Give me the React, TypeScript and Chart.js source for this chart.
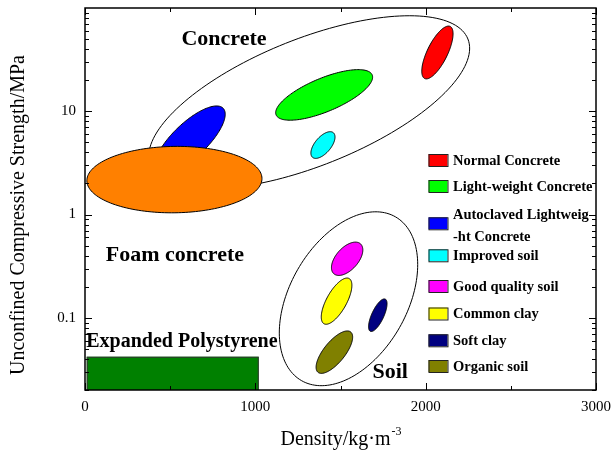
import React, { useEffect, useRef } from "react";
import { Chart, registerables } from "chart.js";
Chart.register(...registerables);

const FONT = "'Liberation Serif', 'Times New Roman', serif";

// ---------- data ----------
const xTickValues = [0, 1000, 2000, 3000];
const xMinorValues = [500, 1500, 2500];
const yTickValues = [0.1, 1, 10];
const yMinorValues = [
  0.02, 0.03, 0.04, 0.05, 0.06, 0.07, 0.08, 0.09,
  0.2, 0.3, 0.4, 0.5, 0.6, 0.7, 0.8, 0.9,
  2, 3, 4, 5, 6, 7, 8, 9,
  20, 30, 40, 50, 60, 70, 80, 90,
];

// regions (ellipses) in draw order: centre and two conjugate semi-axis end points, in data units
const regionNames = [
  "Concrete", "Soil", "Autoclaved Lightweight Concrete", "Light-weight Concrete",
  "Normal Concrete", "Improved soil", "Foam concrete", "Good quality soil",
  "Common clay", "Soft clay", "Organic soil",
];
const centerDensity = [1316, 1547, 616, 1404, 2069, 1397, 525, 1539, 1477, 1719, 1464];
const centerStrength = [12.2, 0.153, 5.27, 14.4, 37.1, 4.71, 2.18, 0.373, 0.145, 0.106, 0.0465];
const axisADensity = [384, 1272, 811, 1686, 2144, 1458, 1039, 1617, 1551, 1762, 1560];
const axisAStrength = [2.97, 0.0246, 10.7, 22.5, 66.3, 6.2, 2.24, 0.521, 0.24, 0.152, 0.0729];
const axisBDensity = [1178, 1248, 686, 1442, 2122, 1433, 528, 1588, 1528, 1752, 1512];
const axisBStrength = [45.5, 0.292, 4.01, 10.2, 33.6, 4.2, 1.04, 0.317, 0.13, 0.101, 0.0401];
const regionColors = [
  null, null, "#0000FF", "#00FF00", "#FF0000", "#00FFFF", "#FF8000",
  "#FF00FF", "#FFFF00", "#000080", "#808000",
];

// Expanded Polystyrene block
const epsDensity = [10, 1020];
const epsStrength = [0.02, 0.042];
const epsColor = "#008000";

// legend
const legendLabels = [
  ["Normal Concrete"], ["Light-weight Concrete"], ["Autoclaved Lightweig", "-ht Concrete"],
  ["Improved soil"], ["Good quality soil"], ["Common clay"], ["Soft clay"], ["Organic soil"],
];
const legendColors = ["#FF0000", "#00FF00", "#0000FF", "#00FFFF", "#FF00FF", "#FFFF00", "#000080", "#808000"];

// annotations
const noteTexts = ["Concrete", "Foam concrete", "Expanded Polystyrene", "Soil"];
const noteDensity = [816, 528, 569, 1792];
const noteStrength = [49.8, 0.405, 0.0588, 0.0294];
const noteSizes = [22, 22, 20, 22];

// ---------- layout ----------
const LEGEND_ROW_Y = [160, 186, 223.3, 255.3, 286, 313.5, 340.3, 366];
const LEGEND_BOX_X = 428.5;
const LEGEND_TEXT_X = 453;

const drawPlugin = {
  id: "drawRegions",
  afterDatasetsDraw(chart: any) {
    const ctx: CanvasRenderingContext2D = chart.ctx;
    const xs = chart.scales.x, ys = chart.scales.y;
    const ca = chart.chartArea;
    ctx.save();
    ctx.beginPath();
    ctx.rect(ca.left, ca.top, ca.right - ca.left, ca.bottom - ca.top);
    ctx.clip();

    for (let i = 0; i < regionNames.length; i++) {
      const cx = xs.getPixelForValue(centerDensity[i]);
      const cy = ys.getPixelForValue(centerStrength[i]);
      const ax = xs.getPixelForValue(axisADensity[i]) - cx;
      const ay = ys.getPixelForValue(axisAStrength[i]) - cy;
      const bx = xs.getPixelForValue(axisBDensity[i]) - cx;
      const by = ys.getPixelForValue(axisBStrength[i]) - cy;
      ctx.beginPath();
      const n = 160;
      for (let k = 0; k <= n; k++) {
        const t = (k / n) * Math.PI * 2;
        const X = cx + Math.cos(t) * ax + Math.sin(t) * bx;
        const Y = cy + Math.cos(t) * ay + Math.sin(t) * by;
        if (k === 0) ctx.moveTo(X, Y); else ctx.lineTo(X, Y);
      }
      ctx.closePath();
      const fill = regionColors[i];
      if (fill) { ctx.fillStyle = fill; ctx.fill(); }
      ctx.strokeStyle = "#000";
      ctx.lineWidth = 1;
      ctx.stroke();
    }

    // EPS block
    const x0 = xs.getPixelForValue(epsDensity[0]);
    const x1 = xs.getPixelForValue(epsDensity[1]);
    const y0 = ys.getPixelForValue(epsStrength[0]);
    const y1 = ys.getPixelForValue(epsStrength[1]);
    ctx.fillStyle = epsColor;
    ctx.fillRect(x0, y1, x1 - x0, y0 - y1);
    ctx.strokeStyle = "#333";
    ctx.lineWidth = 1;
    ctx.strokeRect(x0 + 0.5, y1 + 0.5, x1 - x0 - 1, y0 - y1);
    ctx.restore();

    // annotations
    ctx.save();
    ctx.fillStyle = "#000";
    ctx.textAlign = "center";
    ctx.textBaseline = "middle";
    for (let i = 0; i < noteTexts.length; i++) {
      ctx.font = `bold ${noteSizes[i]}px ${FONT}`;
      ctx.fillText(noteTexts[i], xs.getPixelForValue(noteDensity[i]), ys.getPixelForValue(noteStrength[i]));
    }
    ctx.restore();

    // frame + ticks (inward)
    ctx.save();
    ctx.strokeStyle = "#000";
    ctx.lineWidth = 1.5;
    ctx.strokeRect(ca.left, ca.top, ca.right - ca.left, ca.bottom - ca.top);
    ctx.lineWidth = 1;
    ctx.beginPath();
    const vt = (v: number, len: number) => {
      const x = Math.round(xs.getPixelForValue(v)) + 0.5;
      ctx.moveTo(x, ca.bottom); ctx.lineTo(x, ca.bottom - len);
      ctx.moveTo(x, ca.top); ctx.lineTo(x, ca.top + len);
    };
    const ht = (v: number, len: number) => {
      const y = Math.round(ys.getPixelForValue(v)) + 0.5;
      ctx.moveTo(ca.left, y); ctx.lineTo(ca.left + len, y);
      ctx.moveTo(ca.right, y); ctx.lineTo(ca.right - len, y);
    };
    xTickValues.forEach(v => vt(v, 7));
    xMinorValues.forEach(v => vt(v, 4));
    yTickValues.forEach(v => ht(v, 7));
    yMinorValues.forEach(v => ht(v, 4));
    ctx.stroke();
    ctx.restore();

    // legend
    ctx.save();
    ctx.font = `bold 14.5px ${FONT}`;
    ctx.textBaseline = "middle";
    ctx.textAlign = "left";
    for (let i = 0; i < legendLabels.length; i++) {
      const yc = LEGEND_ROW_Y[i];
      ctx.fillStyle = legendColors[i];
      ctx.fillRect(LEGEND_BOX_X, yc - 6, 19, 12);
      ctx.strokeStyle = "#222";
      ctx.lineWidth = 1;
      ctx.strokeRect(LEGEND_BOX_X + 0.5, yc - 5.5, 19, 12);
      ctx.fillStyle = "#000";
      const lines = legendLabels[i];
      if (lines.length === 1) ctx.fillText(lines[0], LEGEND_TEXT_X, yc + 1);
      else {
        ctx.fillText(lines[0], LEGEND_TEXT_X, yc - 8.5);
        ctx.fillText(lines[1], LEGEND_TEXT_X, yc + 14);
      }
    }
    ctx.restore();

    // axis titles
    ctx.save();
    ctx.fillStyle = "#000";
    ctx.font = `20px ${FONT}`;
    ctx.textBaseline = "middle";
    const main = "Density/kg\u00B7m";
    const sup = "-3";
    const w1 = ctx.measureText(main).width;
    ctx.font = `12px ${FONT}`;
    const w2 = ctx.measureText(sup).width;
    const tx = (ca.left + ca.right) / 2 - (w1 + w2) / 2;
    ctx.font = `20px ${FONT}`;
    ctx.textAlign = "left";
    ctx.fillText(main, tx, 440);
    ctx.font = `12px ${FONT}`;
    ctx.fillText(sup, tx + w1 + 1, 432);
    ctx.translate(18.5, 215);
    ctx.rotate(-Math.PI / 2);
    ctx.font = `20px ${FONT}`;
    ctx.textAlign = "center";
    ctx.fillText("Unconfined Compressive Strength/MPa", 0, 0);
    ctx.restore();
  },
};

export default function App() {
  const ref = useRef<HTMLCanvasElement>(null);
  useEffect(() => {
    const chart = new Chart(ref.current!, {
      type: "scatter",
      data: { datasets: [{ data: [] }] },
      options: {
        responsive: false,
        animation: false,
        layout: { padding: { left: 0, top: 8, right: 18, bottom: 0 } },
        plugins: { legend: { display: false }, tooltip: { enabled: false }, title: { display: false } },
        scales: {
          x: {
            type: "linear", min: 0, max: 3000,
            afterFit: (s: any) => { s.height = 63; s.paddingLeft = 0; s.paddingRight = 0; s.paddingTop = 0; s.paddingBottom = 0; },
            afterBuildTicks: (s: any) => { s.ticks = xTickValues.map(v => ({ value: v })); },
            grid: { display: false, drawTicks: false },
            border: { display: false },
            ticks: { padding: 8, font: { family: FONT, size: 15 }, color: "#000", callback: (v: any) => String(v) },
          },
          y: {
            type: "logarithmic", min: 0.02, max: 100,
            afterFit: (s: any) => { s.width = 85; s.paddingLeft = 0; s.paddingRight = 0; s.paddingTop = 0; s.paddingBottom = 0; },
            afterBuildTicks: (s: any) => { s.ticks = yTickValues.map(v => ({ value: v })); },
            grid: { display: false, drawTicks: false },
            border: { display: false },
            ticks: { padding: 9, font: { family: FONT, size: 15 }, color: "#000", callback: (v: any) => String(v) },
          },
        },
      },
      plugins: [drawPlugin],
    } as any);
    return () => chart.destroy();
  }, []);
  return (
    <div style={{ position: "absolute", left: 0, top: 0, width: 614, height: 453, background: "#fff" }}>
      <canvas ref={ref} width={614} height={453} />
    </div>
  );
}
